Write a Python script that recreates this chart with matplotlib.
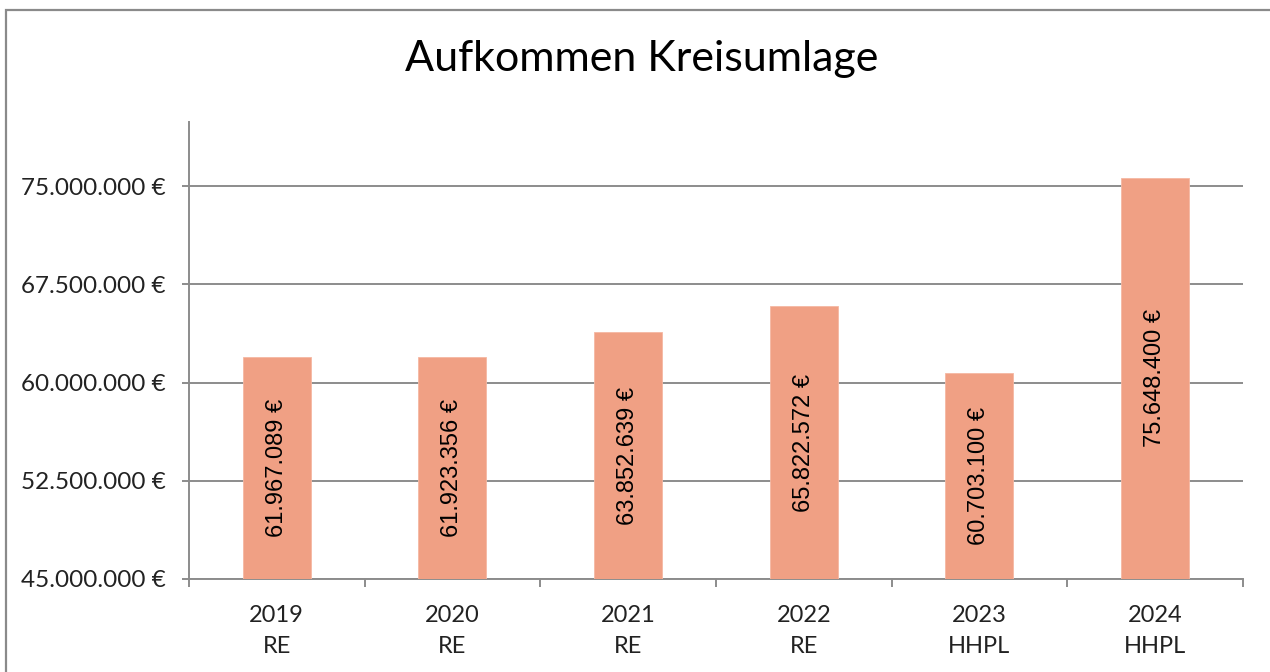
import matplotlib
matplotlib.use("Agg")
import matplotlib.pyplot as plt
from matplotlib.patches import Rectangle
from matplotlib.ticker import FixedLocator, FuncFormatter

years = ["2019", "2020", "2021", "2022", "2023", "2024"]
kinds = ["RE", "RE", "RE", "RE", "HHPL", "HHPL"]
values = [61967089, 61923356, 63852639, 65822572, 60703100, 75648400]
yticks = [45000000, 52500000, 60000000, 67500000, 75000000]
ymin, ymax = 45000000, 79900000

def eur(v):
    return f"{int(round(v)):,}".replace(",", ".") + " €"

fig = plt.figure(figsize=(12.7, 6.72), dpi=100)
ax = fig.add_axes([0.1488, 0.1384, 0.9787 - 0.1488, 0.8185 - 0.1384])

grey = "#8c8c8c"
bar_color = "#f0a084"
x = list(range(len(years)))
ax.bar(x, [v - ymin for v in values], bottom=ymin, width=0.387, color=bar_color,
       edgecolor="#f5b8a2", linewidth=0.6, zorder=3)

for xi, v in zip(x, values):
    ax.text(xi, (ymin + v) / 2, eur(v), rotation=90, ha="center", va="center",
            fontsize=17, family="Liberation Sans", color="#000000", zorder=4)

ax.set_xlim(-0.5, len(years) - 0.5)
ax.set_ylim(ymin, ymax)
ax.yaxis.set_major_locator(FixedLocator(yticks))
ax.yaxis.set_major_formatter(FuncFormatter(lambda v, p: eur(v)))
ax.grid(axis="y", color=grey, linewidth=1.4, zorder=0)

ax.set_xticks(x)
ax.set_xticklabels([f"{y}\n{k}" for y, k in zip(years, kinds)], linespacing=1.55)
ax.set_xticks([i - 0.5 for i in range(len(years) + 1)], minor=True)
ax.tick_params(axis="x", which="major", length=0, pad=19, labelsize=17, labelcolor="#222222")
ax.tick_params(axis="x", which="minor", length=6, width=1.4, color=grey, direction="out")
ax.tick_params(axis="y", which="major", length=5, width=1.4, color=grey, pad=12,
               labelsize=17.5, labelcolor="#222222")
for lab in ax.get_xticklabels() + ax.get_yticklabels():
    lab.set_family("Lato")

for s in ["top", "right"]:
    ax.spines[s].set_visible(False)
for s in ["left", "bottom"]:
    ax.spines[s].set_color(grey)
    ax.spines[s].set_linewidth(1.4)

fig.text(0.505, 0.912, "Aufkommen Kreisumlage", ha="center", va="center",
         fontsize=31, family="Lato", color="#000000")

border = Rectangle((6 / 1270, -0.2), 1.2, 1.2 - 10 / 672, transform=fig.transFigure,
                   fill=False, edgecolor="#8a8a8a", linewidth=1.6, clip_on=False)
fig.patches.append(border)

fig.savefig("out.png", dpi=100, facecolor="white")
